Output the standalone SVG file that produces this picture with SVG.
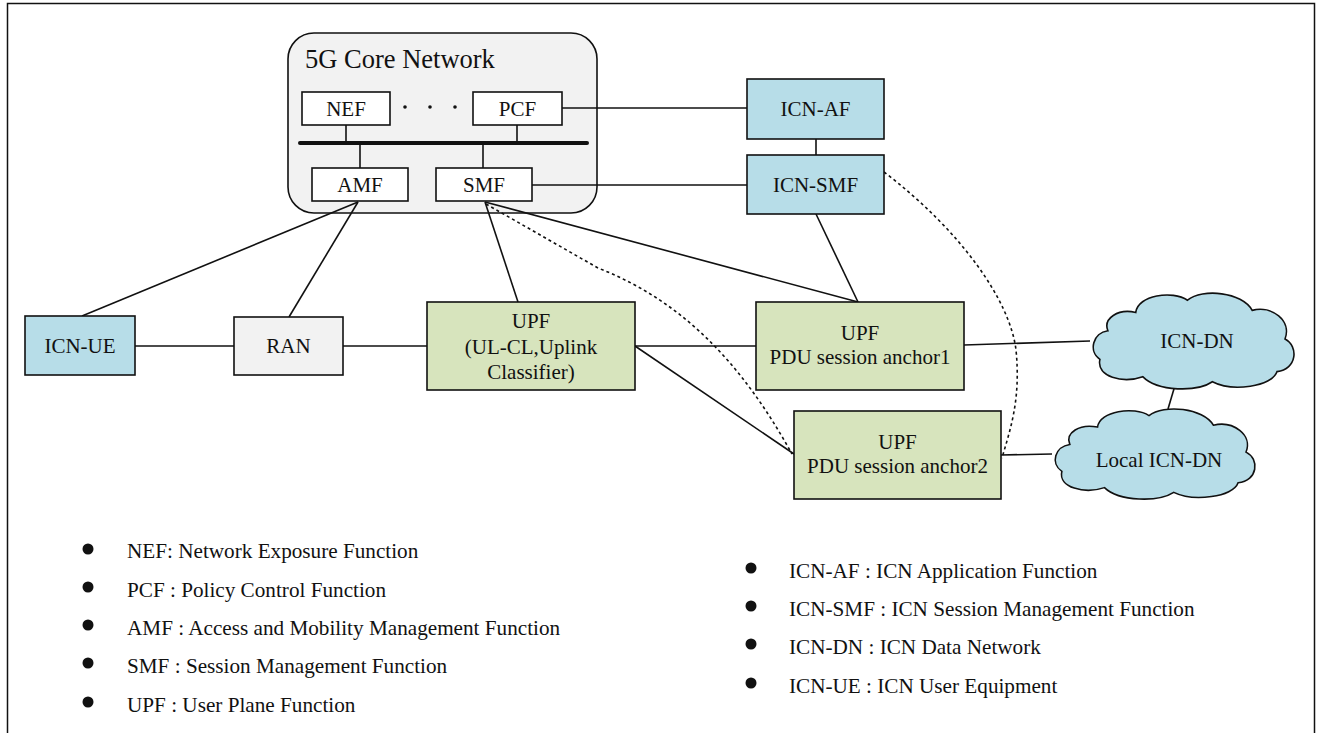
<svg xmlns="http://www.w3.org/2000/svg" width="1319" height="733" viewBox="0 0 1319 733">
<style>
text{font-family:"Liberation Serif","Times New Roman",serif;fill:#111;}
.lbl{font-size:21px;text-anchor:middle;}
.leg{font-size:21.2px;}
.box{stroke:#111;stroke-width:1.6;}
.blue{fill:#b7dde8;}
.green{fill:#d7e4bd;}
.grey{fill:#f2f2f2;}
.white{fill:#fff;}
.ln{stroke:#111;stroke-width:1.6;fill:none;}
.dot{stroke:#111;stroke-width:1.6;fill:none;stroke-dasharray:3 3;}
</style>
<defs>
<path id="cloud" d="M20,40 C5,42 0,60 12,68 C8,85 35,92 55,85 C70,100 110,100 125,90 C145,100 185,95 190,80 C210,78 212,55 198,48 C205,30 185,15 165,20 C155,2 115,-2 100,10 C85,0 50,5 48,22 C30,18 15,28 20,40 Z"/>
</defs>
<rect x="7.5" y="3.5" width="1307" height="740" fill="#fff" stroke="#111" stroke-width="1.5"/>

<g id="core">
<rect x="288" y="33" width="309" height="180" rx="26" class="grey" stroke="#111" stroke-width="1.6"/>
<text x="305" y="68" style="font-size:26.5px">5G Core Network</text>
<line x1="300" y1="143" x2="587" y2="143" stroke="#111" stroke-width="4" stroke-linecap="round"/>
<circle cx="405" cy="107" r="1.8" fill="#111"/>
<circle cx="430" cy="107" r="1.8" fill="#111"/>
<circle cx="455" cy="107" r="1.8" fill="#111"/>
<line x1="346" y1="125" x2="346" y2="143" class="ln"/>
<line x1="517" y1="125" x2="517" y2="143" class="ln"/>
<line x1="360" y1="143" x2="360" y2="168" class="ln"/>
<line x1="483" y1="143" x2="483" y2="168" class="ln"/>
</g>
<g id="nef"><rect x="302" y="92" width="88" height="33" class="box white"/><text x="346" y="116" class="lbl">NEF</text></g>
<g id="pcf"><rect x="473" y="92" width="89" height="33" class="box white"/><text x="517.5" y="116" class="lbl">PCF</text></g>
<g id="amf"><rect x="312" y="168" width="96" height="33" class="box white"/><text x="360" y="192" class="lbl">AMF</text></g>
<g id="smf"><rect x="436" y="168" width="96" height="33" class="box white"/><text x="484" y="192" class="lbl">SMF</text></g>

<g id="connectors">
<line x1="562" y1="108" x2="747" y2="108" class="ln"/>
<line x1="532" y1="185" x2="747" y2="185" class="ln"/>
<line x1="816" y1="139" x2="816" y2="155" class="ln"/>
<line x1="358" y1="202" x2="82" y2="316" class="ln"/>
<line x1="358" y1="202" x2="289" y2="317" class="ln"/>
<line x1="485" y1="202" x2="518" y2="302" class="ln"/>
<line x1="485" y1="202" x2="858" y2="302" class="ln"/>
<line x1="816" y1="214" x2="858" y2="302" class="ln"/>
<line x1="135" y1="346" x2="234" y2="346" class="ln"/>
<line x1="343" y1="346" x2="427" y2="346" class="ln"/>
<line x1="635" y1="346" x2="756" y2="346" class="ln"/>
<line x1="635" y1="346" x2="794" y2="454" class="ln"/>
<line x1="964" y1="345" x2="1090" y2="341" class="ln"/>
<line x1="1001" y1="455" x2="1052" y2="454" class="ln"/>
<line x1="1176" y1="382" x2="1168" y2="409" class="ln"/>
<path d="M486,204 L598,268 C680,300 740,360 792,454" class="dot"/>
<path d="M884,172 C960,230 1010,300 1016,350 C1021,400 1010,430 1002,458" class="dot"/>
</g>

<g id="icn-af"><rect x="747" y="79" width="137" height="60" class="box blue"/><text x="815.5" y="116" class="lbl">ICN-AF</text></g>
<g id="icn-smf"><rect x="747" y="155" width="137" height="59" class="box blue"/><text x="815.5" y="192" class="lbl">ICN-SMF</text></g>
<g id="icn-ue"><rect x="25" y="316" width="110" height="59" class="box blue"/><text x="80" y="353" class="lbl">ICN-UE</text></g>
<g id="ran"><rect x="234" y="317" width="109" height="58" class="box grey"/><text x="288.5" y="353" class="lbl">RAN</text></g>
<g id="upf-ulcl"><rect x="427" y="302" width="208" height="88" class="box green"/>
<text x="531" y="328" class="lbl">UPF</text><text x="531" y="353.5" class="lbl">(UL-CL,Uplink</text><text x="531" y="379" class="lbl">Classifier)</text></g>
<g id="upf-psa1"><rect x="756" y="302" width="208" height="88" class="box green"/>
<text x="860" y="340" class="lbl">UPF</text><text x="860" y="364" class="lbl">PDU session anchor1</text></g>
<g id="upf-psa2"><rect x="794" y="411" width="207" height="88" class="box green"/>
<text x="897.5" y="449" class="lbl">UPF</text><text x="897.5" y="473" class="lbl">PDU session anchor2</text></g>
<g id="icn-dn"><use href="#cloud" transform="translate(1088,290) scale(0.995,1.02)" class="blue" stroke="#111" stroke-width="1.6"/>
<text x="1197" y="348" class="lbl">ICN-DN</text></g>
<g id="local-icn-dn"><use href="#cloud" transform="translate(1050,406) scale(0.99,0.96)" class="blue" stroke="#111" stroke-width="1.6"/>
<text x="1159" y="467" class="lbl">Local ICN-DN</text></g>

<g id="legend">
<circle cx="88" cy="549" r="5.5" fill="#111"/><text x="127" y="558" class="leg">NEF: Network Exposure Function</text>
<circle cx="88" cy="587" r="5.5" fill="#111"/><text x="127" y="597" class="leg">PCF : Policy Control Function</text>
<circle cx="88" cy="625" r="5.5" fill="#111"/><text x="127" y="635" class="leg">AMF : Access and Mobility Management Function</text>
<circle cx="88" cy="663" r="5.5" fill="#111"/><text x="127" y="673" class="leg">SMF : Session Management Function</text>
<circle cx="88" cy="702" r="5.5" fill="#111"/><text x="127" y="712" class="leg">UPF : User Plane Function</text>
<circle cx="751" cy="568" r="5.5" fill="#111"/><text x="789" y="578" class="leg">ICN-AF : ICN Application Function</text>
<circle cx="751" cy="606" r="5.5" fill="#111"/><text x="789" y="616" class="leg">ICN-SMF : ICN Session Management Function</text>
<circle cx="751" cy="644" r="5.5" fill="#111"/><text x="789" y="654" class="leg">ICN-DN : ICN Data Network</text>
<circle cx="751" cy="683" r="5.5" fill="#111"/><text x="789" y="693" class="leg">ICN-UE : ICN User Equipment</text>
</g>
</svg>
